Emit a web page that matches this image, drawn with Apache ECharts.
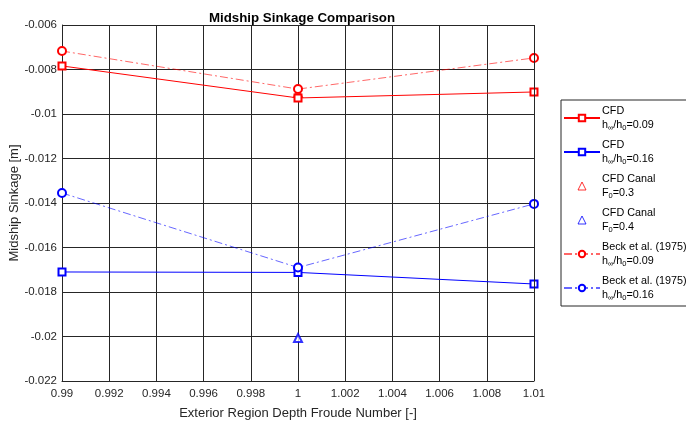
<!DOCTYPE html>
<html lang="en">
<head>
    <meta charset="UTF-8">
    <title>Midship Sinkage Comparison</title>
    <style type="text/css">
        html,
        body,
        .canvas {
            padding: 0;
            margin: 0;
            background-color: #fff;
            width: 686px;
            height: 421px;
        }
    </style>
</head>
<body>
<div class="canvas" id="chart"></div>
<script type="text/javascript" src="https://cdn.jsdelivr.net/npm/echarts@6/dist/echarts.min.js"></script>
<script>
    // data
    const froude = [0.99, 1, 1.01];
    const cfd009 = [-0.00784, -0.00928, -0.00901];
    const cfd016 = [-0.01710, -0.01712, -0.01764];
    const canal03 = [[1, -0.00906]];
    const canal04 = [[1, -0.02007]];
    const beck009 = [-0.00717, -0.00888, -0.00748];
    const beck016 = [-0.01355, -0.01690, -0.01404];

    const legendText = {
        cfd009: 'CFD\nh{sub|∞}/h{sub|0}=0.09',
        cfd016: 'CFD\nh{sub|∞}/h{sub|0}=0.16',
        canal03: 'CFD Canal\nF{sub|0}=0.3',
        canal04: 'CFD Canal\nF{sub|0}=0.4',
        beck009: 'Beck et al. (1975)\nh{sub|∞}/h{sub|0}=0.09',
        beck016: 'Beck et al. (1975)\nh{sub|∞}/h{sub|0}=0.16'
    };

    function pairs(ys) {
        return froude.map(function (x, i) { return [x, ys[i]]; });
    }

    function trim(v) {
        return String(Number(v.toFixed(3)));
    }

    const font = 'Liberation Sans, Arial, Helvetica, sans-serif';
    const dashDot = [8, 3, 2, 3];
    const tri = 'path://M0,10 L5,0 L10,10 Z';

    const chart = echarts.init(document.getElementById('chart'), null, {renderer: 'canvas'});

    chart.setOption({
        animation: false,
        textStyle: {fontFamily: font},
        title: {
            text: 'Midship Sinkage Comparison',
            left: 297,
            textAlign: 'center',
            top: 7,
            textStyle: {fontSize: 13.3, fontWeight: 'bold', color: '#000', fontFamily: font}
        },
        grid: {left: 62, right: 152, top: 25, bottom: 40, outerBoundsMode: 'none', containLabel: false},
        legend: {
            orient: 'vertical',
            left: 561,
            top: 100,
            padding: [4, 8, 4, 2],
            itemGap: 6,
            itemWidth: 36,
            itemHeight: 8,
            symbolKeepAspect: true,
            borderColor: '#262626',
            borderWidth: 1,
            backgroundColor: '#fff',
            data: [
                {name: 'cfd009'},
                {name: 'cfd016'},
                {name: 'canal03', icon: tri, itemStyle: {color: 'none', borderColor: '#ff0000', borderWidth: 1}},
                {name: 'canal04', icon: tri, itemStyle: {color: 'none', borderColor: '#0000ff', borderWidth: 1}},
                {name: 'beck009'},
                {name: 'beck016'}
            ],
            formatter: function (name) { return legendText[name]; },
            textStyle: {
                fontSize: 10.8,
                color: '#000',
                fontFamily: font,
                lineHeight: 14,
                padding: [0, 0, 0, -3],
                rich: {
                    sub: {fontSize: 7.5, lineHeight: 14, padding: [6, 0, 0, 0], fontFamily: font, color: '#000'}
                }
            }
        },
        xAxis: {
            type: 'value',
            min: 0.99,
            max: 1.01,
            interval: 0.002,
            name: 'Exterior Region Depth Froude Number [-]',
            nameLocation: 'middle',
            nameGap: 26,
            nameMoveOverlap: false,
            nameTextStyle: {fontSize: 13, color: '#262626', fontFamily: font},
            axisLine: {onZero: false, lineStyle: {color: '#262626'}},
            axisTick: {show: false},
            axisLabel: {fontSize: 11.5, color: '#262626', margin: 7, formatter: trim},
            splitLine: {show: true, lineStyle: {color: '#262626', width: 1}}
        },
        yAxis: {
            type: 'value',
            min: -0.022,
            max: -0.006,
            interval: 0.002,
            name: 'Midship Sinkage [m]',
            nameLocation: 'middle',
            nameGap: 41,
            nameMoveOverlap: false,
            nameTextStyle: {fontSize: 13, color: '#262626', fontFamily: font},
            axisLine: {onZero: false, lineStyle: {color: '#262626'}},
            axisTick: {show: false},
            axisLabel: {fontSize: 11.5, color: '#262626', margin: 5, formatter: trim},
            splitLine: {show: true, lineStyle: {color: '#262626', width: 1}}
        },
        series: [
            {
                name: 'cfd009', type: 'line', data: pairs(cfd009),
                symbol: 'emptyRect', symbolSize: 7,
                lineStyle: {color: '#ff0000', width: 1},
                itemStyle: {color: '#ff0000', borderWidth: 1}
            },
            {
                name: 'cfd016', type: 'line', data: pairs(cfd016),
                symbol: 'emptyRect', symbolSize: 7,
                lineStyle: {color: '#0000ff', width: 1},
                itemStyle: {color: '#0000ff', borderWidth: 1}
            },
            {
                name: 'canal03', type: 'scatter', data: canal03,
                symbol: 'emptyTriangle', symbolSize: 8,
                itemStyle: {color: '#ff0000', borderColor: '#ff0000', borderWidth: 1}
            },
            {
                name: 'canal04', type: 'scatter', data: canal04,
                symbol: 'emptyTriangle', symbolSize: 8,
                itemStyle: {color: '#0000ff', borderColor: '#0000ff', borderWidth: 1}
            },
            {
                name: 'beck009', type: 'line', data: pairs(beck009),
                symbol: 'emptyCircle', symbolSize: 8,
                lineStyle: {color: '#ff0000', width: 1, type: dashDot, opacity: 0.6},
                itemStyle: {color: '#ff0000', borderWidth: 1}
            },
            {
                name: 'beck016', type: 'line', data: pairs(beck016),
                symbol: 'emptyCircle', symbolSize: 8,
                lineStyle: {color: '#0000ff', width: 1, type: dashDot, opacity: 0.6},
                itemStyle: {color: '#0000ff', borderWidth: 1}
            },
            {
                // box edges on top and right
                type: 'line', silent: true, data: [],
                markLine: {
                    silent: true, symbol: 'none', label: {show: false},
                    lineStyle: {color: '#262626', width: 1, type: 'solid'},
                    data: [{yAxis: -0.006}, {xAxis: 1.01}]
                }
            }
        ]
    });
</script>
</body>
</html>
